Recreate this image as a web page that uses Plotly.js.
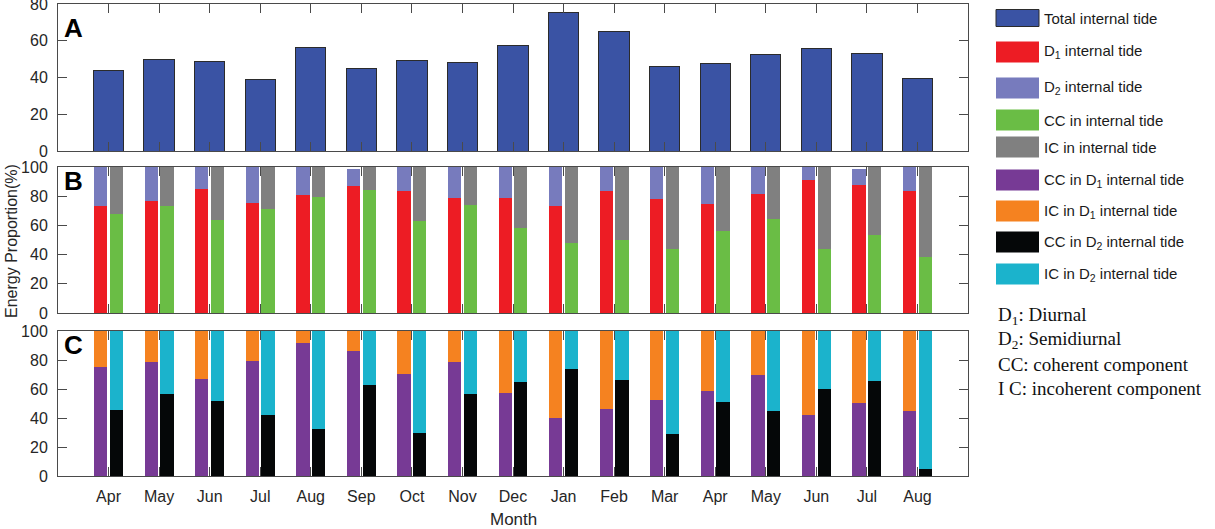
<!DOCTYPE html>
<html>
<head>
<meta charset="utf-8">
<script src="https://cdn.plot.ly/plotly-3.0.1.min.js"></script>
<style>
  body { margin: 0; background: #fff; }
  #chart { width: 1215px; height: 529px; }
</style>
</head>
<body>
<div id="chart"></div>
<script>
// ---- DATA
const months = ['Apr', 'May', 'Jun', 'Jul', 'Aug', 'Sep', 'Oct', 'Nov', 'Dec',
                'Jan', 'Feb', 'Mar', 'Apr', 'May', 'Jun', 'Jul', 'Aug'];

// panel A
const totalIT = [43.6, 50.0, 48.5, 38.7, 56.4, 45.1, 49.3, 48.2, 57.6, 75.3, 65.3, 46.2, 47.8, 52.4, 55.6, 53.1, 39.3];

// panel B
const d1IT = [73.1, 76.5, 84.7, 75.6, 80.6, 86.8, 83.3, 79.0, 79.0, 73.1, 83.3, 78.3, 74.7, 81.7, 91.3, 87.4, 83.3];
const d2IT = [26.9, 23.5, 15.3, 24.4, 19.4, 12.1, 16.7, 21.0, 21.0, 26.9, 16.7, 21.7, 25.3, 18.3, 8.7, 11.5, 16.7];
const ccIT = [67.8, 73.1, 63.9, 71.2, 79.2, 84.5, 63.2, 74.2, 58.0, 48.2, 49.8, 44.1, 55.9, 64.6, 43.6, 53.2, 38.4];
const icIT = [32.2, 26.9, 36.1, 28.8, 20.8, 15.5, 36.8, 25.8, 42.0, 51.8, 50.2, 55.9, 44.1, 35.4, 56.4, 46.8, 61.6];

// panel C
const ccD1 = [75.0, 78.4, 67.0, 79.4, 91.7, 86.0, 70.4, 78.9, 57.1, 39.7, 46.3, 52.5, 58.7, 70.0, 42.0, 50.5, 45.0];
const icD1 = [25.0, 21.6, 33.0, 20.6, 8.3, 14.0, 29.6, 21.1, 42.9, 60.3, 53.7, 47.5, 41.3, 30.0, 58.0, 49.5, 55.0];
const ccD2 = [45.4, 56.4, 51.6, 42.0, 32.1, 63.1, 30.0, 56.9, 64.9, 73.6, 66.5, 28.7, 51.1, 44.5, 60.1, 65.4, 4.8];
const icD2 = [54.6, 43.6, 48.4, 58.0, 67.9, 36.9, 70.0, 43.1, 35.1, 26.4, 33.5, 71.3, 48.9, 55.5, 39.9, 34.6, 95.2];

const yTicksA = [0, 20, 40, 60, 80];
const yTicksBC = [0, 20, 40, 60, 80, 100];

const legendNames = ['Total internal tide', 'D<sub>1</sub> internal tide', 'D<sub>2</sub> internal tide',
  'CC in internal tide', 'IC in internal tide', 'CC in D<sub>1</sub> internal tide',
  'IC in D<sub>1</sub> internal tide', 'CC in D<sub>2</sub> internal tide', 'IC in D<sub>2</sub> internal tide'];
const noteLines = ['D<sub>1</sub>: Diurnal', 'D<sub>2</sub>: Semidiurnal', 'CC: coherent component', 'I C: incoherent component'];

// ---- STYLE
const colors = {
  total: '#3a53a4', d1: '#ed1c24', d2: '#777bbd', cc: '#6abd45', ic: '#808080',
  ccD1: '#773a95', icD1: '#f58220', ccD2: '#050708', icD2: '#1bb3cc'
};
const legendColors = [colors.total, colors.d1, colors.d2, colors.cc, colors.ic,
  colors.ccD1, colors.icD1, colors.ccD2, colors.icD2];

const pos = months.map((m, i) => i + 1);
const left = pos.map(p => p - 0.155);
const right = pos.map(p => p + 0.155);
const bw = 0.26;

function bar(x, y, color, xa, ya, width, line) {
  return {
    type: 'bar', x: x, y: y, xaxis: xa, yaxis: ya, width: width,
    marker: { color: color, line: line || { width: 0 } },
    showlegend: false, hoverinfo: 'y'
  };
}

const data = [
  bar(pos, totalIT, colors.total, 'x', 'y', 0.6, { color: '#2b2b2b', width: 1 }),
  bar(left, d1IT, colors.d1, 'x2', 'y2', bw),
  bar(left, d2IT, colors.d2, 'x2', 'y2', bw),
  bar(right, ccIT, colors.cc, 'x2', 'y2', bw),
  bar(right, icIT, colors.ic, 'x2', 'y2', bw),
  bar(left, ccD1, colors.ccD1, 'x3', 'y3', bw),
  bar(left, icD1, colors.icD1, 'x3', 'y3', bw),
  bar(right, ccD2, colors.ccD2, 'x3', 'y3', bw),
  bar(right, icD2, colors.icD2, 'x3', 'y3', bw)
];

// plot area in pixels: x 58..968, y 4..476
const W = 910, H = 472, L = 58, B = 476;
const px = v => (v - L) / W;
const py = v => (B - v) / H;

const axisBase = {
  showline: true, mirror: 'ticks', linecolor: '#4a4a4a', linewidth: 1,
  ticks: 'inside', ticklen: 9, tickcolor: '#4a4a4a', tickwidth: 1,
  showgrid: false, zeroline: false, ticklabeloverflow: 'allow',
  tickfont: { family: 'Liberation Sans, Arial, sans-serif', size: 16, color: '#262626' }
};
function xAxis(anchor, showLabels) {
  return Object.assign({}, axisBase, {
    anchor: anchor, range: [0, 18], tickvals: pos, ticktext: months,
    showticklabels: showLabels, ticklabelstandoff: 6
  });
}
function yAxis(anchor, domain, max, ticks) {
  return Object.assign({}, axisBase, {
    anchor: anchor, domain: domain, range: [0, max], tickmode: 'array', tickvals: ticks,
    ticktext: ticks.map(String), ticklabelstandoff: 6
  });
}

const annotations = [];
const shapes = [];
const letterFont = { family: 'Liberation Sans, Arial, sans-serif', size: 26, color: '#000' };
[['A', 28], ['B', 181], ['C', 345]].forEach(function (l) {
  annotations.push({ xref: 'paper', yref: 'paper', x: px(62), y: py(l[1]), xanchor: 'left', yanchor: 'middle',
    text: '<b>' + l[0] + '</b>', showarrow: false, font: letterFont });
});

annotations.push({ xref: 'paper', yref: 'paper', x: px(11), y: py(241), xanchor: 'center', yanchor: 'middle',
  textangle: -90, text: 'Energy Proportion(%)', showarrow: false,
  font: { family: 'Liberation Sans, Arial, sans-serif', size: 16, color: '#262626' } });
annotations.push({ xref: 'paper', yref: 'paper', x: 0.5, y: py(519), xanchor: 'center', yanchor: 'middle',
  text: 'Month', showarrow: false,
  font: { family: 'Liberation Sans, Arial, sans-serif', size: 17, color: '#262626' } });

// legend drawn as swatches + labels
const rowY = [18, 52, 88, 120, 147, 180, 211, 242, 274];
legendNames.forEach(function (name, i) {
  const h = i === 0 ? 17 : 21;
  shapes.push({ type: 'rect', xref: 'paper', yref: 'paper',
    x0: px(996), x1: px(1039), y0: py(rowY[i] + h / 2), y1: py(rowY[i] - h / 2),
    fillcolor: legendColors[i], line: { color: i === 0 ? '#2b2b2b' : legendColors[i], width: i === 0 ? 1 : 0 } });
  annotations.push({ xref: 'paper', yref: 'paper', x: px(1042), y: py(rowY[i]), xanchor: 'left', yanchor: 'middle',
    text: name, showarrow: false, font: { family: 'Liberation Sans, Arial, sans-serif', size: 15, color: '#1a1a1a' } });
});
noteLines.forEach(function (t, i) {
  annotations.push({ xref: 'paper', yref: 'paper', x: px(996), y: py(316 + i * 24), xanchor: 'left', yanchor: 'middle',
    text: t, showarrow: false, font: { family: 'Liberation Serif, Times New Roman, serif', size: 19, color: '#111' } });
});

const layout = {
  width: 1215, height: 529,
  margin: { l: L, r: 1215 - 968, t: 4, b: 529 - B },
  paper_bgcolor: '#fff', plot_bgcolor: '#fff',
  barmode: 'stack', bargap: 0,
  showlegend: false,
  xaxis: xAxis('y', false),
  xaxis2: xAxis('y2', false),
  xaxis3: xAxis('y3', true),
  yaxis: yAxis('x', [py(151), 1], 80, yTicksA),
  yaxis2: yAxis('x2', [py(313), py(167)], 100, yTicksBC),
  yaxis3: yAxis('x3', [0, py(331)], 100, yTicksBC),
  annotations: annotations,
  shapes: shapes
};

Plotly.newPlot('chart', data, layout, { displayModeBar: false, staticPlot: true });
</script>
</body>
</html>
